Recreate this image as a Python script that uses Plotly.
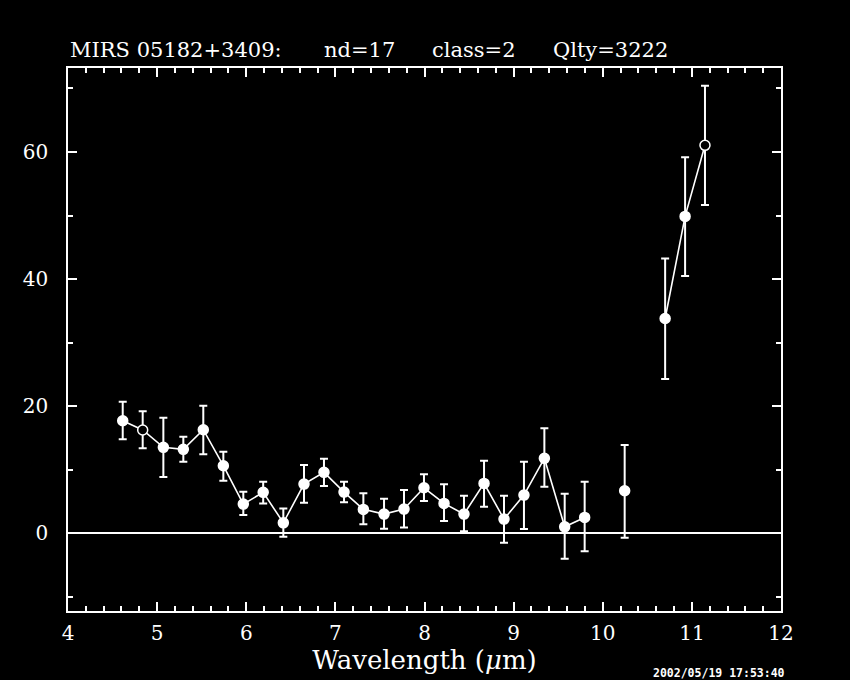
import plotly.graph_objects as go

# ---- data ----
wavelength = [4.614, 4.838, 5.070, 5.294, 5.518, 5.743, 5.967, 6.190, 6.416, 6.648,
              6.872, 7.097, 7.314, 7.546, 7.770, 7.994, 8.219, 8.443, 8.668, 8.892,
              9.116, 9.345, 9.573, 9.797, 10.246, 10.700, 10.924, 11.147]
flux = [17.73, 16.27, 13.54, 13.23, 16.31, 10.65, 4.61, 6.46, 1.67, 7.76,
        9.61, 6.50, 3.78, 3.04, 3.83, 7.18, 4.72, 3.04, 7.87, 2.25,
        6.03, 11.81, 1.04, 2.52, 6.71, 33.80, 49.86, 61.04]
flux_upper = [20.72, 19.21, 18.20, 15.21, 20.09, 12.85, 6.55, 8.13, 3.94, 10.76,
              11.75, 8.13, 6.30, 5.45, 6.82, 9.29, 7.72, 5.92, 11.43, 5.92,
              11.28, 16.54, 6.24, 8.13, 13.91, 43.24, 59.15, 70.39]
flux_lower = [14.80, 13.39, 8.87, 11.28, 12.44, 8.28, 2.88, 4.72, -0.54, 4.82,
              7.45, 4.90, 1.46, 0.72, 0.94, 5.09, 1.94, 0.36, 4.19, -1.48,
              0.68, 7.34, -4.00, -2.79, -0.69, 24.30, 40.47, 51.65]
open_point = [False, True] + [False] * 25 + [True]
segment = [0] * 24 + [1] + [2] * 3

title_parts = ["MIRS 05182+3409:", "nd=17", "class=2", "Qlty=3222"]
timestamp = "2002/05/19 17:53:40"

# ---- figure ----
W, H = 850, 680
L, R, T, B = 68, 69, 68, 69
plot_h = H - T - B
plot_w = W - L - R

def px_to_paper_y(p):
    return (H - B - p) / plot_h

def px_to_paper_x(p):
    return (p - L) / plot_w

fig = go.Figure()

for s in sorted(set(segment)):
    xs = [x for x, g in zip(wavelength, segment) if g == s]
    ys = [y for y, g in zip(flux, segment) if g == s]
    if len(xs) > 1:
        fig.add_trace(go.Scatter(x=xs, y=ys, mode="lines",
                                 line=dict(color="white", width=1.6),
                                 hoverinfo="skip", showlegend=False))

err_plus = [u - f for u, f in zip(flux_upper, flux)]
err_minus = [f - l for f, l in zip(flux, flux_lower)]

fig.add_trace(go.Scatter(
    x=wavelength, y=flux, mode="markers", showlegend=False,
    marker=dict(size=10, symbol="circle",
                color=["black" if o else "white" for o in open_point],
                line=dict(color="white", width=1.5)),
    error_y=dict(type="data", symmetric=False, array=err_plus, arrayminus=err_minus,
                 color="white", thickness=2, width=4),
))

font_serif = "DejaVu Serif, Liberation Serif, serif"

axis_common = dict(
    showgrid=False, showline=True, linecolor="white", linewidth=1.5,
    mirror="allticks", ticks="inside", tickcolor="white", tickwidth=1.5,
    ticklen=9, tickfont=dict(family=font_serif, size=20, color="white"),
)

fig.update_xaxes(range=[4, 12], dtick=1, tick0=4, zeroline=False,
                 minor=dict(dtick=0.2, ticklen=5, ticks="inside", tickcolor="white", tickwidth=1.5),
                 title=dict(text="Wavelength (<i>μ</i>m)",
                            font=dict(family=font_serif, size=26, color="white"),
                            standoff=4),
                 ticklabelstandoff=3,
                 **axis_common)
fig.update_yaxes(range=[-12.2, 73.2], dtick=20, tick0=0,
                 zeroline=True, zerolinecolor="white", zerolinewidth=2,
                 minor=dict(dtick=10, ticklen=5, ticks="inside", tickcolor="white", tickwidth=1.5),
                 ticklabelstandoff=14,
                 **axis_common)

title_x_px = [68, 322, 430, 551]
annotations = []
for txt, xp in zip(title_parts, title_x_px):
    annotations.append(dict(text=txt, xref="paper", yref="paper",
                            x=px_to_paper_x(xp), y=px_to_paper_y(50),
                            xanchor="left", yanchor="middle", showarrow=False,
                            font=dict(family=font_serif, size=21, color="white")))
annotations.append(dict(text="<b>" + timestamp + "</b>", xref="paper", yref="paper",
                        x=px_to_paper_x(719), y=px_to_paper_y(681),
                        xanchor="center", yanchor="bottom", showarrow=False,
                        borderpad=0,
                        font=dict(family="DejaVu Sans Mono, monospace", size=11.5, color="white")))

fig.update_layout(
    width=W, height=H, margin=dict(l=L, r=R, t=T, b=B, pad=0),
    paper_bgcolor="black", plot_bgcolor="black",
    annotations=annotations, showlegend=False,
)

fig.write_html("out.html", config={"displayModeBar": False},
               post_script="document.body.style.margin='0';document.body.style.background='black';")
